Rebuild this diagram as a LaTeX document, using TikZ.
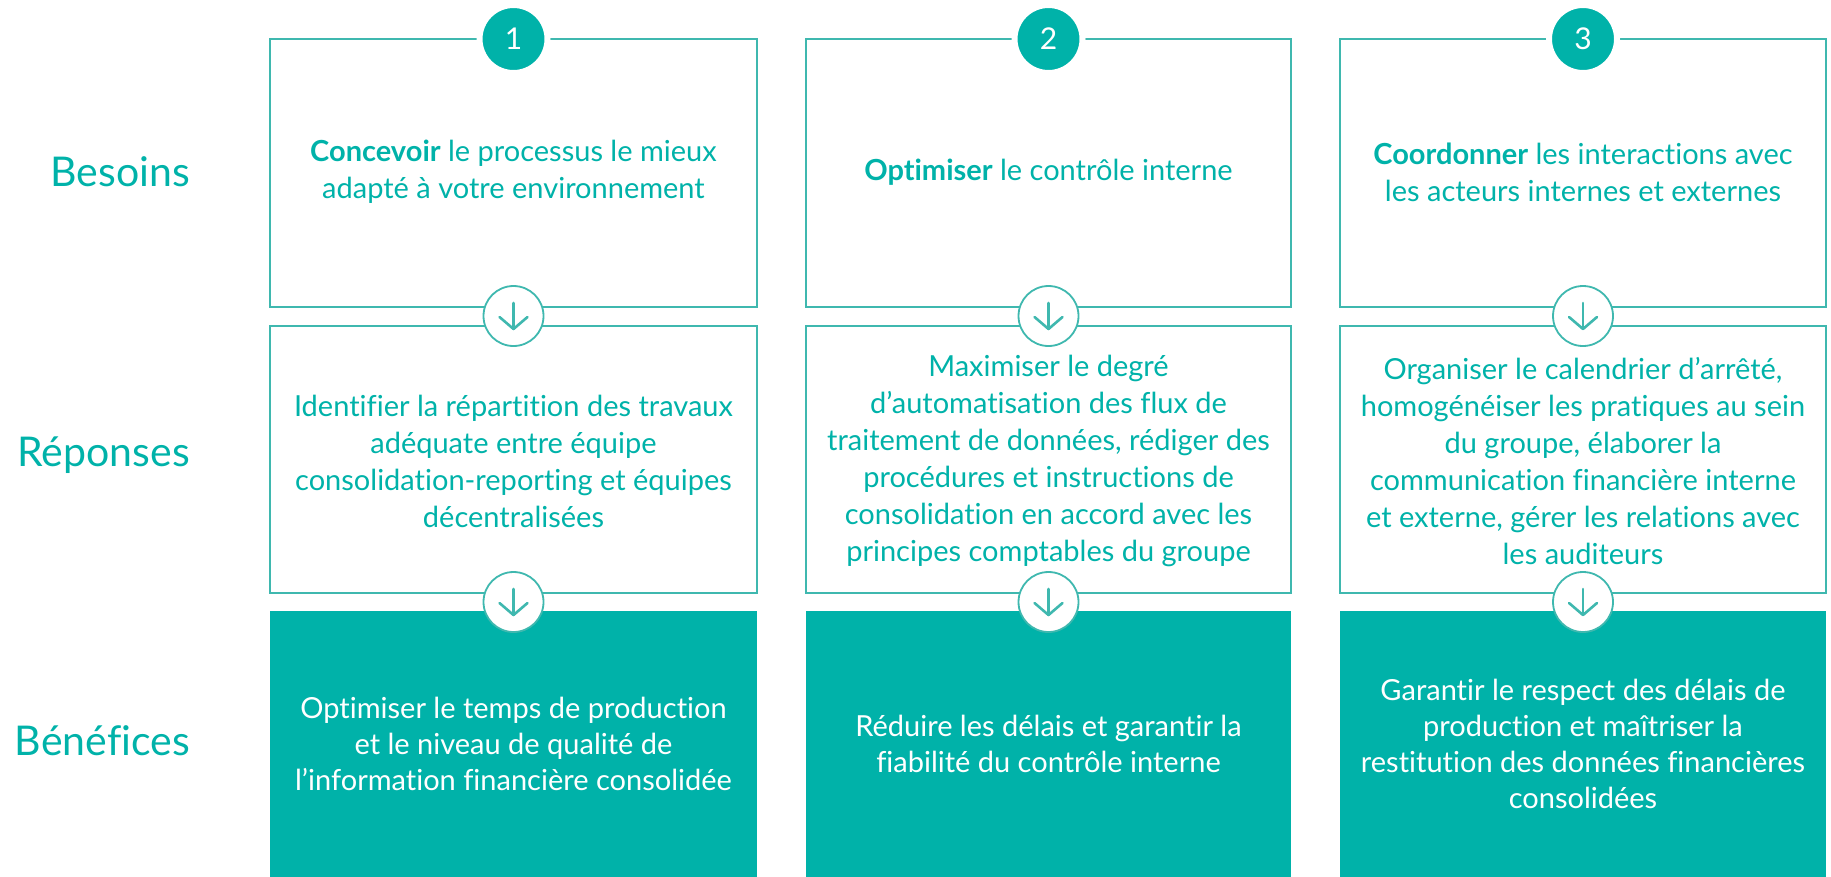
\documentclass[tikz,border=0pt]{standalone}
\usepackage{fontspec}
\setmainfont{Lato}[Ligatures=NoCommon]
\definecolor{teal}{HTML}{00B2A9}
\definecolor{tline}{HTML}{3FB8AF}
\begin{document}
\begin{tikzpicture}[x=1pt,y=-1pt,
  box/.style={draw=tline, line width=1.8pt},
  fbox/.style={fill=teal},
  txt/.style={align=center, text=teal, font=\fontsize{29}{37}\selectfont},
  wtxt/.style={align=center, text=white, font=\fontsize{29}{36}\selectfont},
  lbl/.style={anchor=east, text=teal, font=\fontsize{41}{46}\selectfont, inner sep=0pt},
  numc/.style={circle, fill=teal, draw=white, line width=6pt, minimum size=68pt, inner sep=0pt, text=white, font=\fontsize{30}{36}\selectfont},
  arrc/.style={circle, fill=white, draw=tline, line width=1.8pt, minimum size=60pt, inner sep=0pt},
  arr/.style={draw=tline, line width=2.6pt, line cap=round, line join=round}]
\useasboundingbox (0,0) rectangle (1831,876);
% columns
\foreach \c/\l/\r in {1/270/757, 2/806/1291, 3/1340/1826}{
  \draw[box] (\l,39) rectangle (\r,307);
  \draw[box] (\l,326) rectangle (\r,593);
  \fill[fbox] (\l,611) rectangle (\r,877);
  \coordinate (t\c) at ({(\l+\r)/2},172);
  \coordinate (m\c) at ({(\l+\r)/2},461);
  \coordinate (b\c) at ({(\l+\r)/2},744);
  \coordinate (n\c) at ({(\l+\r)/2},39);
  \coordinate (a\c) at ({(\l+\r)/2},316);
  \coordinate (d\c) at ({(\l+\r)/2},602);
}
\node[numc] (num1) at (n1) {1};
\node[numc] (num2) at (n2) {2};
\node[numc] (num3) at (n3) {3};
\foreach \c in {1,2,3}{
  \node[arrc] (ar\c) at (a\c) {};
  \draw[arr] ([yshift=13pt]ar\c.center) -- ([yshift=-13pt]ar\c.center);
  \draw[arr] ([xshift=-14pt,yshift=-1pt]ar\c.center) -- ([yshift=-13pt]ar\c.center) -- ([xshift=14pt,yshift=-1pt]ar\c.center);
  \node[arrc] (dr\c) at (d\c) {};
  \draw[arr] ([yshift=13pt]dr\c.center) -- ([yshift=-13pt]dr\c.center);
  \draw[arr] ([xshift=-14pt,yshift=-1pt]dr\c.center) -- ([yshift=-13pt]dr\c.center) -- ([xshift=14pt,yshift=-1pt]dr\c.center);
}
\node[lbl] (besoins) at (190,172) {Besoins};
\node[lbl] (reponses) at (190,455) {Réponses};
\node[lbl] (benefices) at (190,741) {Bénéfices};
\node[txt] (bt1) at (t1) {\textbf{Concevoir} le processus le mieux\\adapté à votre environnement};
\node[txt] (bt2) at (t2) {\textbf{Optimiser} le contrôle interne};
\node[txt] (bt3) at (t3) {\textbf{Coordonner} les interactions avec\\les acteurs internes et externes};
\node[txt] (rt1) at (m1) {Identifier la répartition des travaux\\adéquate entre équipe\\consolidation-reporting et équipes\\décentralisées};
\node[txt] (rt2) at (m2) {Maximiser le degré\\d’automatisation des flux de\\traitement de données, rédiger des\\procédures et instructions de\\consolidation en accord avec les\\principes comptables du groupe};
\node[txt] (rt3) at (m3) {Organiser le calendrier d’arrêté,\\homogénéiser les pratiques au sein\\du groupe, élaborer la\\communication financière interne\\et externe, gérer les relations avec\\les auditeurs};
\node[wtxt] (ft1) at (b1) {Optimiser le temps de production\\et le niveau de qualité de\\l’information financière consolidée};
\node[wtxt] (ft2) at (b2) {Réduire les délais et garantir la\\fiabilité du contrôle interne};
\node[wtxt] (ft3) at (b3) {Garantir le respect des délais de\\production et maîtriser la\\restitution des données financières\\consolidées};
\end{tikzpicture}
\end{document}
